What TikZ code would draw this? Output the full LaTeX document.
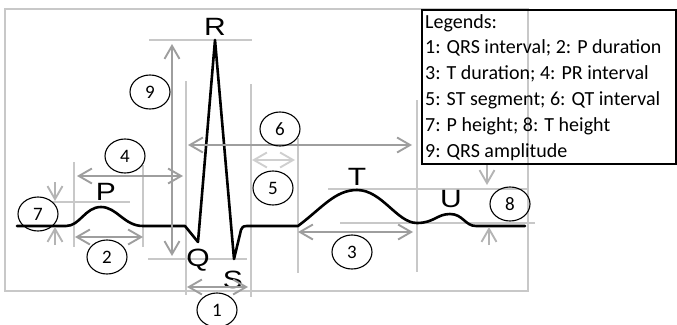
\documentclass[tikz,border=0pt]{standalone}
\usepackage{graphicx}
\usepackage{fontspec}
\usetikzlibrary{arrows.meta,shapes.geometric}
\setmainfont{Carlito}
\newfontfamily\wavefont{Liberation Sans}
\definecolor{guide}{HTML}{C8C8C8}
\definecolor{arr}{HTML}{9E9E9E}
\definecolor{arrlight}{HTML}{CFCFCF}
\begin{document}
\begin{tikzpicture}[x=1pt,y=-1pt,
 guideline/.style={draw=guide,line width=1.3pt},
 dim/.style={draw=arr,line width=1.9pt,{Straight Barb[length=13pt,width=15pt]}-{Straight Barb[length=13pt,width=15pt]}},
 onearr/.style={draw=arr,line width=1.9pt,-{Straight Barb[length=13pt,width=15pt]}},
 num/.style={ellipse,draw=black,line width=1.1pt,minimum width=40pt,minimum height=34pt,inner sep=0pt,font=\fontsize{19}{19}\selectfont},
 wave/.style={anchor=base,inner sep=0pt,font=\wavefont\fontsize{25}{25}\selectfont},
 legline/.style={anchor=base west,inner sep=0pt,font=\fontsize{20}{20}\selectfont},
 ecg/.style={draw=black,line width=2.6pt,line join=round,line cap=round}]
\useasboundingbox (0,0) rectangle (677,324);
% frame
\draw[guideline] (5,9) rectangle (528,291);
% guide lines
\draw[guideline] (149,40) -- (252,40);
\draw[guideline] (148,259) -- (247,259);
\draw[guideline] (186,81) -- (186,295);
\draw[guideline] (251,84) -- (251,297);
\draw[guideline] (298,138) -- (298,273);
\draw[guideline] (417,100) -- (417,272);
\draw[guideline] (53,202) -- (130,202);
\draw[guideline] (74,162) -- (74,247);
\draw[guideline] (143,165) -- (143,247);
\draw[guideline] (328,189) -- (527,189);
\draw[guideline] (340,223) -- (535,223);
% ECG trace
\draw[ecg] (17,226) -- (66,226) .. controls (80,226) and (85,207) .. (101,207)
  .. controls (117,207) and (124,226) .. (143,226) -- (185,226) -- (198,242)
  -- (215,40) -- (234,259) -- (241,230) .. controls (243,226) .. (250,226)
  -- (298,226) .. controls (322,208) and (335,190) .. (357,190)
  .. controls (382,190) and (397,223) .. (417,223)
  .. controls (434,223) and (437,214) .. (450,214)
  .. controls (463,214) and (465,226) .. (476,226) -- (525,226);
% wave letters
\node[wave] (lR) at (215,35) {\scalebox{1.2}[1]{R}};
\node[wave] (lP) at (106,200) {\scalebox{1.2}[1]{P}};
\node[wave] (lQ) at (198,266) {\scalebox{1.2}[1]{Q}};
\node[wave] (lS) at (233,288) {\scalebox{1.2}[1]{S}};
\node[wave] (lT) at (357,185) {\scalebox{1.2}[1]{T}};
\node[wave] (lU) at (451,207) {\scalebox{1.2}[1]{U}};
% arrow end points
\coordinate (a9t) at (172,44);
\coordinate (a9b) at (172,256);
\coordinate (a6l) at (188,145);
\coordinate (a6r) at (412,145);
\coordinate (a5l) at (252,160);
\coordinate (a5r) at (295,160);
\coordinate (a4l) at (77,176);
\coordinate (a4r) at (183,176);
\coordinate (a2l) at (75,237);
\coordinate (a2r) at (143,237);
\coordinate (a1l) at (187,287);
\coordinate (a1r) at (248,287);
\coordinate (a3l) at (298,232);
\coordinate (a3r) at (413,232);
\coordinate (a7a) at (55,182);
\coordinate (a7b) at (55,201);
\coordinate (a7c) at (55,245);
\coordinate (a7d) at (55,227);
\coordinate (a8a) at (487,164);
\coordinate (a8b) at (487,185);
\coordinate (a8c) at (489,245);
\coordinate (a8d) at (489,227);
\draw[dim] (a9t) -- (a9b);
\draw[dim] (a6l) -- (a6r);
\draw[dim,draw=arrlight] (a5l) -- (a5r);
\draw[dim] (a4l) -- (a4r);
\draw[dim] (a2l) -- (a2r);
\draw[dim] (a1l) -- (a1r);
\draw[dim] (a3l) -- (a3r);
\draw[onearr,draw=guide!90!black] (a7a) -- (a7b);
\draw[onearr,draw=guide!90!black] (a7c) -- (a7d);
\draw[onearr,draw=guide!90!black] (a8a) -- (a8b);
\draw[onearr,draw=guide!90!black] (a8c) -- (a8d);
% numbered ellipses
\node[num] (n9) at (150,92) {9};
\node[num] (n6) at (280,129) {6};
\node[num] (n4) at (125,156) {4};
\node[num] (n7) at (38,214) {7};
\node[num] (n2) at (107,257) {2};
\node[num] (n1) at (217,310) {1};
\node[num] (n5) at (273,188) {5};
\node[num] (n3) at (352,252) {3};
\node[num] (n8) at (510,204) {8};
% legend
\draw[black,line width=1.3pt] (422,10) rectangle (676,164);
\node[legline] (lg0) at (425,28) {Legends:};
\node[legline] (lg1) at (425,53.8) {1: QRS interval; 2: P duration};
\node[legline] (lg2) at (425,79.6) {3: T duration; 4: PR interval};
\node[legline] (lg3) at (425,105.4) {5: ST segment; 6: QT interval};
\node[legline] (lg4) at (425,131.2) {7: P height; 8: T height};
\node[legline] (lg5) at (425,157) {9: QRS amplitude};
\end{tikzpicture}
\end{document}
